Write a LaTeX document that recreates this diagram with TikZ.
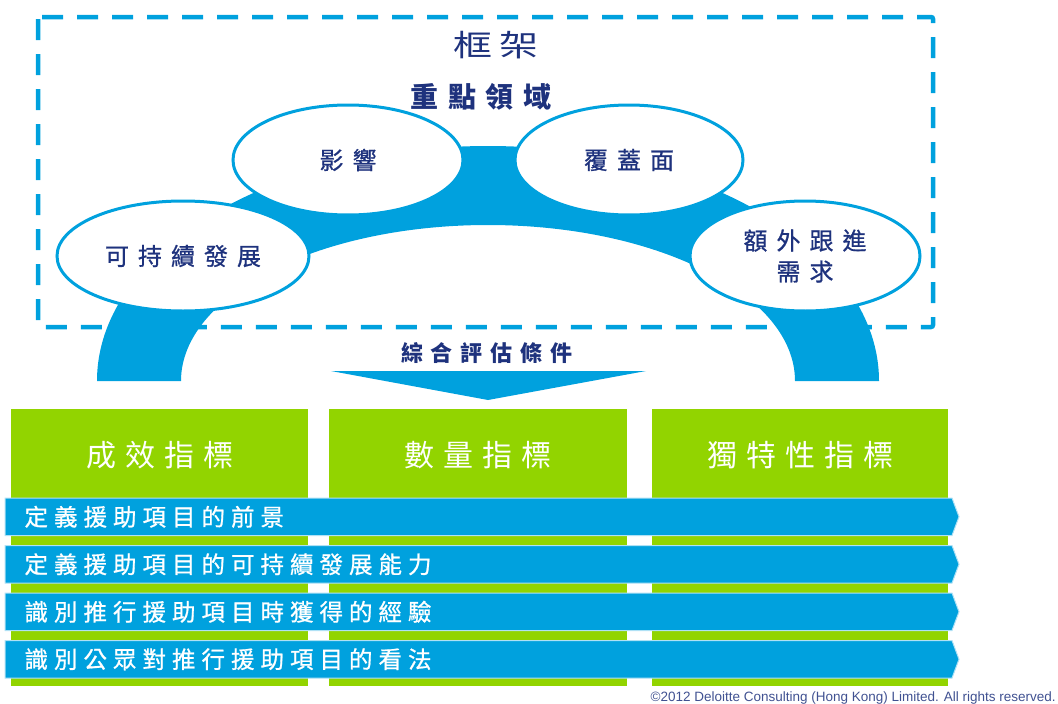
\documentclass[tikz,border=0pt]{standalone}
\usepackage{fontspec}
\usetikzlibrary{shapes.geometric}
\newfontfamily\cjk{Noto Sans CJK TC}
\newfontfamily\cjkm{Noto Sans CJK TC}[FakeBold=0.8]
\newfontfamily\cjkwide{Noto Sans CJK TC}[FakeStretch=1.3]
\newfontfamily\arialf{Liberation Sans}
\definecolor{dblue}{RGB}{0,161,222}
\definecolor{dgreen}{RGB}{146,212,0}
\definecolor{navy}{RGB}{30,50,125}
\definecolor{barline}{RGB}{175,225,245}
\makeatletter
\newcommand\spc[2]{\def\spc@first{1}\@tfor\spc@t:=#2\do{\ifx\spc@first\@empty\hspace{#1}\fi\let\spc@first\@empty\spc@t}}
\makeatother
\tikzset{
  oval/.style={ellipse, draw=dblue, line width=3pt, fill=white, inner sep=0pt,
    text=navy, align=center, font=\cjkm\fontsize{24}{33}\selectfont},
  head/.style={text=white, font=\cjk\fontsize{30}{34}\selectfont},
  bartext/.style={text=white, anchor=west, font=\cjkm\fontsize{23.5}{26}\selectfont},
  bar/.style={fill=dblue, draw=barline, line width=1pt},
  column/.style={fill=dgreen},
  frame/.style={draw=dblue, line width=4.5pt, dash pattern=on 21pt off 14pt, rounded corners=2pt},
}
\begin{document}
\begin{tikzpicture}[x=1pt,y=-1pt]
\useasboundingbox (0,0) rectangle (1058,704);
% dashed frame
\draw[frame] (38,17) rectangle (933,327);
% arch
\fill[dblue] (97,381) arc[start angle=180,end angle=360,x radius=391,y radius=235]
  -- (795,381) arc[start angle=360,end angle=180,x radius=307,y radius=156] -- cycle;
% titles
\node[text=navy, font=\cjkwide\fontsize{30}{34}\selectfont] (title) at (496,45) {\spc{8pt}{框架}};
\node[text=navy, font=\cjk\bfseries\fontsize{28}{30}\selectfont] (focus) at (481,97) {\spc{10pt}{重點領域}};
% ovals
\node[oval, minimum width=252pt, minimum height=110pt] (sus) at (183,256) {\spc{9pt}{可持續發展}};
\node[oval, minimum width=230pt, minimum height=110pt] (imp) at (348,160) {\spc{9pt}{影響}};
\node[oval, minimum width=228pt, minimum height=110pt] (cov) at (629,160) {\spc{9pt}{覆蓋面}};
\node[oval, minimum width=230pt, minimum height=110pt] (ext) at (805,256) {\spc{9pt}{額外跟進}\\[-2pt]\spc{9pt}{需求}};
% criteria + triangle
\node[text=navy, font=\cjk\bfseries\fontsize{22}{24}\selectfont] (crit) at (487,353) {\spc{8pt}{綜合評估條件}};
\fill[dblue] (331,371) -- (646,371) -- (488,400) -- cycle;
% columns
\fill[column] (11,409) rectangle (308,686);
\fill[column] (329,409) rectangle (627,686);
\fill[column] (652,409) rectangle (948,686);
\node[head] (h1) at (159.5,455) {\spc{9pt}{成效指標}};
\node[head] (h2) at (478,455) {\spc{9pt}{數量指標}};
\node[head] (h3) at (800,455) {\spc{9pt}{獨特性指標}};
% bars
\foreach \txt [count=\i from 0] in {定義援助項目的前景,定義援助項目的可持續發展能力,識別推行援助項目時獲得的經驗,識別公眾對推行援助項目的看法}{
  \pgfmathsetmacro\yt{498+47.5*\i}
  \pgfmathsetmacro\yb{\yt+37.5}
  \pgfmathsetmacro\ym{\yt+18.75}
  \filldraw[bar] (5,\yt) -- (952,\yt) -- (959,\ym) -- (952,\yb) -- (5,\yb) -- cycle;
  \node[bartext] (bar\i) at (21,\ym) {\edef\tmp{\noexpand\spc{6pt}{\txt}}\tmp};
}
% copyright
\node[anchor=base east, inner sep=0pt, text=navy!85!white, font=\arialf\fontsize{13.5}{15}\selectfont] (copy) at (1056,701) {©2012 Deloitte Consulting (Hong Kong) Limited. All rights reserved.};
\end{tikzpicture}
\end{document}
